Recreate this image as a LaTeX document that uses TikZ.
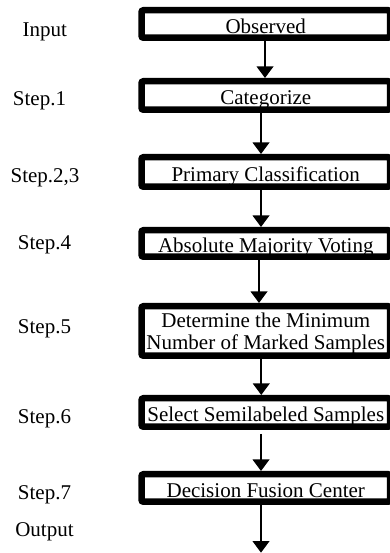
\documentclass[tikz,border=0pt]{standalone}
\usepackage{fontspec}
\setmainfont{Liberation Serif}
\usetikzlibrary{arrows.meta}
\begin{document}
\begin{tikzpicture}[x=1pt,y=1pt,
  stepbox/.style={draw, line width=6.5pt, rounded corners=2pt, outer sep=3.25pt,
    minimum width=248.5pt, inner sep=0pt, font=\fontsize{21}{22}\selectfont, align=center},
  oneline/.style={text height=18.6pt, text depth=0pt},
  lbl/.style={anchor=base, font=\fontsize{21}{22}\selectfont, inner sep=0pt},
  flow/.style={line width=2pt, -{Triangle[width=16.5pt,length=11.5pt]}}]
\useasboundingbox (0,0) rectangle (390,553);
% boxes
\node[stepbox, oneline, minimum height=27.5pt] (b1) at (265.75,529) {Observed};
\node[stepbox, oneline, minimum height=28.5pt] (b2) at (265.75,457.5) {Categorize};
\node[stepbox, oneline, minimum height=29.5pt] (b3) at (265.75,381) {Primary Classification};
\node[stepbox, oneline, minimum height=26.5pt] (b4) at (265.75,309.5) {Absolute Majority Voting};
\node[stepbox, minimum height=49.5pt, text depth=0pt] (b5) at (265.75,222) {Determine the Minimum\\Number of Marked Samples};
\node[stepbox, oneline, minimum height=28.5pt] (b6) at (265.75,140.5) {Select Semilabeled Samples};
\node[stepbox, oneline, minimum height=27.5pt] (b7) at (265.75,65) {Decision Fusion Center};
% labels
\node[lbl] (l0) at (44.7,516.3) {Input};
\node[lbl] (l1) at (39.5,447) {Step.1};
\node[lbl] (l2) at (45,370.3) {Step.2,3};
\node[lbl] (l4) at (44.5,303) {Step.4};
\node[lbl] (l5) at (44.5,219.7) {Step.5};
\node[lbl] (l6) at (44.5,129.7) {Step.6};
\node[lbl] (l7) at (44.5,53.7) {Step.7};
\node[lbl] (l8) at (44.5,16.3) {Output};
% arrows
\coordinate (out) at (261,0.3);
\draw[flow] ([xshift=-0.75pt]b1.south) -- ([xshift=-0.75pt]b2.north);
\draw[flow] ([xshift=-4.75pt]b2.south) -- ([xshift=-4.75pt]b3.north);
\draw[flow] ([xshift=-4.75pt]b3.south) -- ([xshift=-4.75pt]b4.north);
\draw[flow] ([xshift=-6.75pt]b4.south) -- ([xshift=-6.75pt]b5.north);
\draw[flow] ([xshift=-4.5pt]b5.south) -- ([xshift=-4.5pt]b6.north);
\draw[flow, shorten <=4pt] ([xshift=-4.75pt]b6.south) -- ([xshift=-4.75pt]b7.north);
\draw[flow] (b7.south -| out) -- (out);
\end{tikzpicture}
\end{document}
